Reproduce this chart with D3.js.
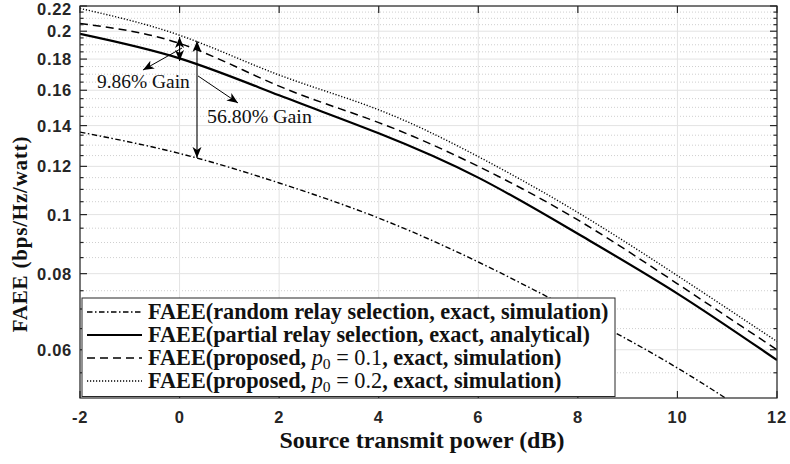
<!DOCTYPE html>
<html><head><meta charset="utf-8">
<script src="https://cdn.jsdelivr.net/npm/d3@7"></script>
<style>body{margin:0;background:#fff}</style>
</head><body><svg id="c" width="790" height="464"></svg>
<script>
// ---------- data ----------
const xValues = [-2, 0, 2, 4, 6, 8, 10, 12];
const randomRelay  = [0.1366, 0.126, 0.1127, 0.0987, 0.0836, 0.069, 0.056, 0.044];
const partialRelay = [0.198, 0.1805, 0.157, 0.136, 0.115, 0.093, 0.0742, 0.0577];
const proposed01   = [0.206, 0.191, 0.1625, 0.1416, 0.120, 0.098, 0.077, 0.060];
const proposed02   = [0.218, 0.197, 0.1695, 0.1486, 0.1245, 0.1008, 0.0794, 0.0619];
const xTicks = [-2, 0, 2, 4, 6, 8, 10, 12];
const xTickLabels = ["-2", "0", "2", "4", "6", "8", "10", "12"];
const yTicks = [0.06, 0.08, 0.1, 0.12, 0.14, 0.16, 0.18, 0.2, 0.22];
const yTickLabels = ["0.06", "0.08", "0.1", "0.12", "0.14", "0.16", "0.18", "0.2", "0.22"];
const legendLabels = [
  [["FAEE(random relay selection, exact, simulation)", "b"]],
  [["FAEE(partial relay selection, exact, analytical)", "b"]],
  [["FAEE(proposed, ", "b"], ["p", "i"], ["0", "sub"], [" = 0.1", "n"], [", exact, simulation)", "b"]],
  [["FAEE(proposed, ", "b"], ["p", "i"], ["0", "sub"], [" = 0.2", "n"], [", exact, simulation)", "b"]]
];
// annotations in data units: [x1, y1, x2, y2]
const doubleArrows = [[0, 0.1957, 0, 0.1787], [0.35, 0.1928, 0.35, 0.1239]];
const singleArrows = [[0.05, 0.1877, -0.735, 0.1727], [0.37, 0.1689, 1.173, 0.1525]];
const gainTexts = [["9.86% Gain", -1.66, 0.1613], ["56.80% Gain", 0.55, 0.1414]];

// ---------- layout ----------
const L = 80, R = 777, T = 6, B = 398;
const svg = d3.select("#c");
const x = d3.scaleLinear().domain([-2, 12]).range([L, R]);
const y = d3.scaleLog().domain([0.05, 0.22]).range([B, T]);
const axisCol = "#262626";
const minorTicks = d3.range(11, 44).map(k => +(k * 0.005).toFixed(3)).filter(v => !yTicks.some(t => Math.abs(t - v) < 1e-9));

function fit(sel, w) {
  const n = sel.node(); const fs = parseFloat(sel.attr("font-size"));
  const len = n.getComputedTextLength(); sel.attr("font-size", fs * w / len);
}

// grid
const g = svg.append("g");
g.selectAll(".mg").data(minorTicks).join("line")
  .attr("x1", L).attr("x2", R).attr("y1", d => y(d)).attr("y2", d => y(d))
  .attr("stroke", "#cfcfcf").attr("stroke-width", 1).attr("stroke-dasharray", "1,2");
g.selectAll(".yg").data(yTicks).join("line")
  .attr("x1", L).attr("x2", R).attr("y1", d => y(d)).attr("y2", d => y(d))
  .attr("stroke", "#e3e3e3").attr("stroke-width", 1);
g.selectAll(".xg").data(xTicks).join("line")
  .attr("y1", T).attr("y2", B).attr("x1", d => x(d)).attr("x2", d => x(d))
  .attr("stroke", "#e3e3e3").attr("stroke-width", 1);

// clip
svg.append("clipPath").attr("id", "pc").append("rect").attr("x", L).attr("y", T).attr("width", R - L).attr("height", B - T);

const styles = [
  {w: 1.4, dash: "5.5,2.5,1.5,2.5"},
  {w: 2.2, dash: null},
  {w: 1.5, dash: "8,5"},
  {w: 1.4, dash: "1.2,1.8"}
];
const series = [randomRelay, partialRelay, proposed01, proposed02];
const line = d3.line().x((d, i) => x(xValues[i])).y(d => y(d)).curve(d3.curveNatural);
const lg = svg.append("g").attr("clip-path", "url(#pc)");
series.forEach((s, i) => {
  lg.append("path").attr("d", line(s)).attr("fill", "none").attr("stroke", "#000")
    .attr("stroke-width", styles[i].w).attr("stroke-dasharray", styles[i].dash);
});

// arrows
const defs = svg.append("defs");
defs.append("marker").attr("id", "ah").attr("viewBox", "0 -5 12 10").attr("refX", 11).attr("refY", 0)
  .attr("markerWidth", 12).attr("markerHeight", 10).attr("markerUnits", "userSpaceOnUse").attr("orient", "auto-start-reverse")
  .append("path").attr("d", "M0,-4.5L11,0L0,4.5L3,0Z").attr("fill", "#000");
const ag = svg.append("g");
doubleArrows.forEach(a => {
  ag.append("line").attr("x1", x(a[0])).attr("y1", y(a[1])).attr("x2", x(a[2])).attr("y2", y(a[3]))
    .attr("stroke", "#000").attr("stroke-width", 1.1).attr("marker-start", "url(#ah)").attr("marker-end", "url(#ah)");
});
singleArrows.forEach(a => {
  ag.append("line").attr("x1", x(a[0])).attr("y1", y(a[1])).attr("x2", x(a[2])).attr("y2", y(a[3]))
    .attr("stroke", "#000").attr("stroke-width", 1).attr("marker-end", "url(#ah)");
});
const gainW = [93, 105];
gainTexts.forEach((t, i) => {
  const s = ag.append("text").attr("x", x(t[1])).attr("y", y(t[2])).attr("font-family", "Liberation Serif")
    .attr("font-size", 17).attr("fill", "#111").text(t[0]);
  fit(s, gainW[i]);
});

// axes box
svg.append("rect").attr("x", L).attr("y", T).attr("width", R - L).attr("height", B - T)
  .attr("fill", "none").attr("stroke", axisCol).attr("stroke-width", 1.2);
const tk = svg.append("g").attr("stroke", axisCol).attr("stroke-width", 1.2);
yTicks.forEach(v => {
  tk.append("line").attr("x1", L).attr("x2", L + 7).attr("y1", y(v)).attr("y2", y(v));
  tk.append("line").attr("x1", R).attr("x2", R - 7).attr("y1", y(v)).attr("y2", y(v));
});
minorTicks.forEach(v => {
  tk.append("line").attr("x1", L).attr("x2", L + 3.5).attr("y1", y(v)).attr("y2", y(v));
  tk.append("line").attr("x1", R).attr("x2", R - 3.5).attr("y1", y(v)).attr("y2", y(v));
});
xTicks.forEach(v => {
  tk.append("line").attr("x1", x(v)).attr("x2", x(v)).attr("y1", B).attr("y2", B - 7);
  tk.append("line").attr("x1", x(v)).attr("x2", x(v)).attr("y1", T).attr("y2", T + 7);
});

// tick labels
svg.append("g").selectAll("text").data(yTicks).join("text")
  .attr("x", 72).attr("y", d => Math.max(y(d), 9)).attr("dy", "0.36em").attr("text-anchor", "end")
  .attr("font-family", "Liberation Sans").attr("font-weight", "bold").attr("font-size", 16.5)
  .attr("letter-spacing", 0.7).attr("fill", axisCol).text((d, i) => yTickLabels[i]);
svg.append("g").selectAll("text").data(xTicks).join("text")
  .attr("x", d => x(d)).attr("y", 423).attr("text-anchor", "middle")
  .attr("font-family", "Liberation Sans").attr("font-weight", "bold").attr("font-size", 16.5)
  .attr("letter-spacing", 0.7).attr("fill", axisCol).text((d, i) => xTickLabels[i]);

// axis titles
const xt = svg.append("text").attr("x", 422).attr("y", 448).attr("text-anchor", "middle")
  .attr("font-family", "Liberation Serif").attr("font-weight", "bold").attr("font-size", 18).attr("fill", "#111")
  .text("Source transmit power (dB)");
fit(xt, 285);
const yt = svg.append("text").attr("transform", "translate(27,234) rotate(-90)").attr("text-anchor", "middle")
  .attr("font-family", "Liberation Serif").attr("font-weight", "bold").attr("font-size", 21)
  .attr("letter-spacing", 0.8).attr("fill", "#111")
  .text("FAEE (bps/Hz/watt)");

// legend
const leg = svg.append("g");
leg.append("rect").attr("x", 82).attr("y", 298).attr("width", 533).attr("height", 98.5)
  .attr("fill", "#fff").attr("stroke", axisCol).attr("stroke-width", 1);
const rowY = [312, 335, 358, 381];
let legSize = null;
legendLabels.forEach((parts, i) => {
  leg.append("line").attr("x1", 87).attr("x2", 142).attr("y1", rowY[i]).attr("y2", rowY[i])
    .attr("stroke", "#000").attr("stroke-width", styles[i].w).attr("stroke-dasharray", styles[i].dash);
  const t = leg.append("text").attr("x", 148).attr("y", rowY[i]).attr("dy", "0.33em")
    .attr("font-family", "Liberation Serif").attr("font-size", 18).attr("fill", "#111");
  parts.forEach(p => {
    const ts = t.append("tspan").text(p[0]);
    if (p[1] === "b") ts.attr("font-weight", "bold");
    if (p[1] === "i") ts.attr("font-style", "italic");
    if (p[1] === "sub") ts.attr("font-size", "0.7em").attr("baseline-shift", "-25%");
  });
  if (i === 0) { fit(t, 461); legSize = t.attr("font-size"); } else t.attr("font-size", legSize);
});
</script></body></html>
